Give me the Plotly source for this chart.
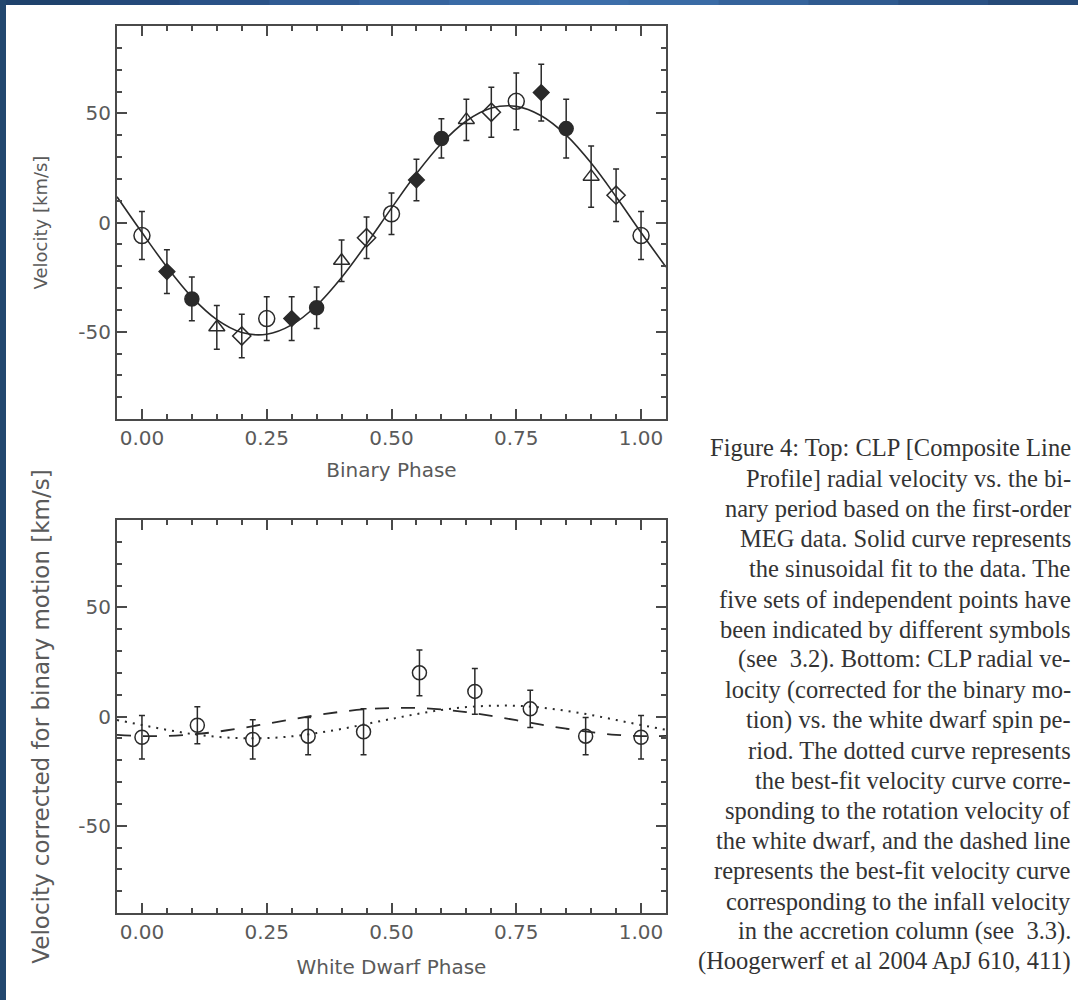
import plotly.graph_objects as go

# ---------------- data: top panel (binary phase) ----------------
circ_phase = [0.00, 0.25, 0.50, 0.75, 1.00]
circ_vel = [-6.0, -44.0, 4.0, 55.5, -6.0]
circ_err = [11.0, 10.0, 9.5, 13.0, 11.0]

fdia_phase = [0.05, 0.30, 0.55, 0.80]
fdia_vel = [-22.5, -44.0, 19.5, 59.5]
fdia_err = [10.0, 10.0, 9.5, 13.0]

fcirc_phase = [0.10, 0.35, 0.60, 0.85]
fcirc_vel = [-35.0, -39.0, 38.5, 43.0]
fcirc_err = [10.0, 9.5, 9.0, 13.5]

tri_phase = [0.15, 0.40, 0.65, 0.90]
tri_vel = [-48.0, -17.5, 47.0, 21.0]
tri_err = [10.0, 9.5, 9.5, 14.0]

odia_phase = [0.20, 0.45, 0.70, 0.95]
odia_vel = [-52.0, -7.0, 50.5, 12.5]
odia_err = [10.0, 9.5, 11.5, 12.0]

curve_phase = [-0.05, 0.00, 0.05, 0.10, 0.15, 0.20, 0.25, 0.30, 0.35, 0.40, 0.45, 0.50,
               0.55, 0.60, 0.65, 0.70, 0.75, 0.80, 0.85, 0.90, 0.95, 1.00, 1.05]
fit_vel = [11.8, -4.6, -20.4, -34.2, -44.5, -50.4, -51.2, -46.9, -38.0, -25.2, -9.8, 6.6,
           22.4, 36.2, 46.5, 52.4, 53.2, 48.9, 40.0, 27.2, 11.8, -4.6, -20.4]

# ---------------- data: bottom panel (white dwarf phase) ----------------
wd_phase = [0.000, 0.111, 0.222, 0.333, 0.444, 0.556, 0.667, 0.778, 0.889, 1.000]
wd_vel = [-9.5, -4.0, -10.5, -9.0, -7.0, 20.0, 11.5, 3.5, -9.0, -9.5]
wd_err = [10.0, 8.5, 9.0, 8.5, 10.5, 10.5, 10.5, 8.5, 8.5, 10.0]

rot_vel = [-1.6, -3.9, -6.1, -8.0, -9.3, -9.9, -9.9, -9.1, -7.6, -5.7, -3.4, -1.1,
           1.1, 3.0, 4.3, 4.9, 4.9, 4.1, 2.6, 0.7, -1.6, -3.9, -6.1]
infall_vel = [-8.4, -8.95, -8.9, -8.2, -7.0, -5.3, -3.3, -1.3, 0.6, 2.2, 3.4, 3.9,
              3.9, 3.2, 2.0, 0.3, -1.7, -3.7, -5.6, -7.2, -8.4, -8.95, -8.9]

# ---------------- ticks ----------------
x_ticks = [0.0, 0.25, 0.5, 0.75, 1.0]
x_ticktext = ["0.00", "0.25", "0.50", "0.75", "1.00"]
x_minor = [-0.05, 0.05, 0.10, 0.15, 0.20, 0.30, 0.35, 0.40, 0.45, 0.55, 0.60, 0.65, 0.70,
           0.80, 0.85, 0.90, 0.95, 1.05]
y_ticks = [-50, 0, 50]
y_ticktext = ["-50", "0", "50"]
y_minor = [-80, -70, -60, -40, -30, -20, -10, 10, 20, 30, 40, 60, 70, 80]

caption_lines = [
    "Figure 4: Top: CLP [Composite Line",
    "Profile] radial velocity vs. the bi-",
    "nary period based on the first-order",
    "MEG data. Solid curve represents",
    "the sinusoidal fit to the data. The",
    "five sets of independent points have",
    "been indicated by different symbols",
    "(see  3.2). Bottom: CLP radial ve-",
    "locity (corrected for the binary mo-",
    "tion) vs. the white dwarf spin pe-",
    "riod. The dotted curve represents",
    "the best-fit velocity curve corre-",
    "sponding to the rotation velocity of",
    "the white dwarf, and the dashed line",
    "represents the best-fit velocity curve",
    "corresponding to the infall velocity",
    "in the accretion column (see  3.3).",
    "(Hoogerwerf et al 2004 ApJ 610, 411)",
]

INK = "#2a2a2a"
AX = "#4a4a4a"
TXT = "#5a5a5a"
W, H = 1078, 1000

fig = go.Figure()


def add_points(x, y, e, symbol, size, xa, ya, lw=1.5):
    fig.add_trace(go.Scatter(
        x=x, y=y, mode="markers", xaxis=xa, yaxis=ya, showlegend=False,
        marker=dict(symbol=symbol, size=size, color=INK, line=dict(color=INK, width=lw)),
        error_y=dict(type="data", array=e, visible=True, color=INK, thickness=1.5, width=3),
    ))


# top panel
fig.add_trace(go.Scatter(x=curve_phase, y=fit_vel, mode="lines", line=dict(color=INK, width=1.6, shape="spline"),
                         xaxis="x", yaxis="y", showlegend=False))
add_points(circ_phase, circ_vel, circ_err, "circle-open", 16, "x", "y")
add_points(fdia_phase, fdia_vel, fdia_err, "diamond", 12, "x", "y")
add_points(fcirc_phase, fcirc_vel, fcirc_err, "circle", 14, "x", "y")
add_points(tri_phase, tri_vel, tri_err, "triangle-up-open", 14, "x", "y")
add_points(odia_phase, odia_vel, odia_err, "diamond-open", 14, "x", "y")

# bottom panel
fig.add_trace(go.Scatter(x=curve_phase, y=rot_vel, mode="lines",
                         line=dict(color=INK, width=2, dash="2px,6px", shape="spline"),
                         xaxis="x2", yaxis="y2", showlegend=False))
fig.add_trace(go.Scatter(x=curve_phase, y=infall_vel, mode="lines",
                         line=dict(color=INK, width=1.8, dash="14px,12px", shape="spline"),
                         xaxis="x2", yaxis="y2", showlegend=False))
add_points(wd_phase, wd_vel, wd_err, "circle-open", 14, "x2", "y2")

tickfont = dict(family="DejaVu Sans", size=20, color=TXT)

xdom = [117 / W, 666 / W]


def xaxis(anchor, title, standoff):
    return dict(
        domain=xdom, anchor=anchor, range=[-0.05, 1.05],
        tickmode="array", tickvals=x_ticks, ticktext=x_ticktext,
        ticks="inside", ticklen=10, tickwidth=1.5, tickcolor=AX,
        minor=dict(tickmode="array", tickvals=x_minor, ticks="inside", ticklen=5, tickwidth=1.5, tickcolor=AX),
        showline=True, linewidth=2, linecolor=AX, mirror="ticks",
        showgrid=False, zeroline=False, tickfont=tickfont,
        title=dict(text=title, font=dict(family="DejaVu Sans", size=20, color=TXT), standoff=standoff),
    )


def yaxis(anchor, dom, title, size, standoff):
    return dict(
        domain=dom, anchor=anchor, range=[-90, 90],
        tickmode="array", tickvals=y_ticks, ticktext=y_ticktext,
        ticks="inside", ticklen=10, tickwidth=1.5, tickcolor=AX,
        minor=dict(tickmode="array", tickvals=y_minor, ticks="inside", ticklen=5, tickwidth=1.5, tickcolor=AX),
        showline=True, linewidth=2, linecolor=AX, mirror="ticks",
        showgrid=False, zeroline=False, tickfont=tickfont,
        title=dict(text=title, font=dict(family="DejaVu Sans", size=size, color=TXT), standoff=standoff),
    )


fig.update_layout(
    width=W, height=H, margin=dict(l=0, r=0, t=0, b=0),
    paper_bgcolor="white", plot_bgcolor="white",
    xaxis=xaxis("y", "Binary Phase", 14),
    yaxis=yaxis("x", [1 - 419 / H, 1 - 26 / H], "Velocity [km/s]", 18, 26),
    xaxis2=xaxis("y2", "White Dwarf Phase", 17),
    yaxis2=yaxis("x2", [1 - 913 / H, 1 - 520 / H], "Velocity corrected for binary motion [km/s]", 23, 22),
)

# caption
y0, dy = 448, 30.2
for i, line in enumerate(caption_lines):
    fig.add_annotation(
        x=1073 / W, y=1 - (y0 + i * dy) / H, xref="paper", yref="paper",
        xanchor="right", yanchor="middle", showarrow=False, align="right",
        text=line, font=dict(family="Liberation Serif", size=24.5, color="#333333"),
    )

# dark blue frame (top and left)
shapes = []
top_cols = ["#1f426c", "#24497a", "#2a5287", "#305b93", "#36649e", "#3a6ba6",
            "#3c6ea9", "#3a6ba5", "#35639b", "#2f5a8f", "#2a5183", "#264a78"]
n = len(top_cols)
for i, c in enumerate(top_cols):
    shapes.append(dict(type="rect", xref="paper", yref="paper", x0=i / n, x1=(i + 1) / n + 0.002,
                       y0=1 - 5 / H, y1=1, fillcolor=c, line=dict(width=0), layer="above"))
shapes.append(dict(type="rect", xref="paper", yref="paper", x0=0, x1=6 / W, y0=0, y1=1,
                   fillcolor="#22476f", line=dict(width=0), layer="above"))
fig.update_layout(shapes=shapes)

fig.write_html("out.html")
